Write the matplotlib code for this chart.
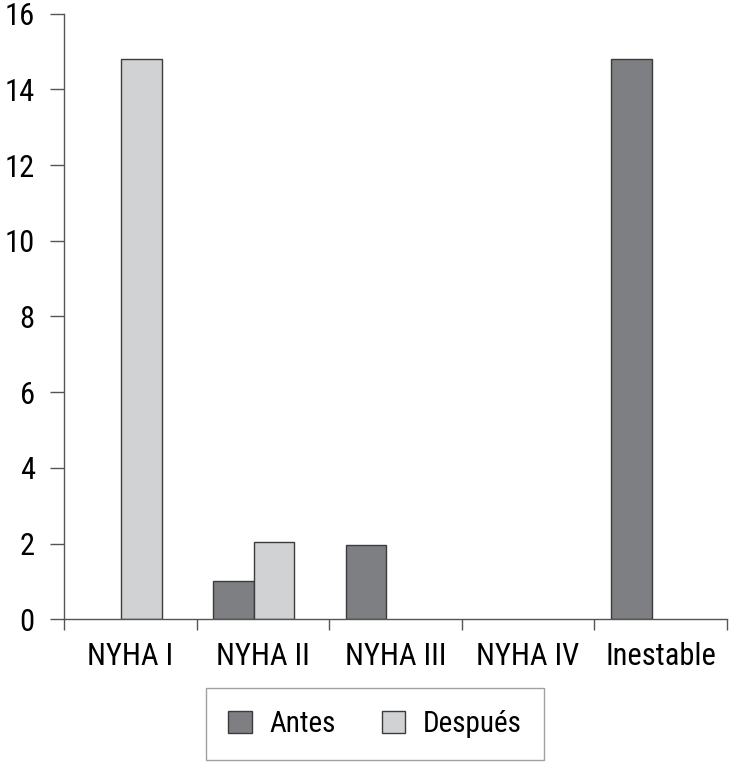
import matplotlib
matplotlib.use("Agg")
import matplotlib.pyplot as plt
import numpy as np

categories = ["NYHA I", "NYHA II", "NYHA III", "NYHA IV", "Inestable"]
antes = [0, 1.0, 1.95, 0, 14.8]
despues = [14.8, 2.05, 0, 0, 0]
yticks = [0, 2, 4, 6, 8, 10, 12, 14, 16]

plt.rcParams['font.family'] = ['Roboto Condensed', 'Liberation Sans', 'DejaVu Sans']

fig = plt.figure(figsize=(7.30, 7.62), dpi=100)
ax = fig.add_axes([64/730, 1-619.3/762, (727-64)/730, (619.3-13.6)/762])

x = np.arange(len(categories))
w = 0.305
shift = -0.068
c_antes = "#7e7f82"
c_desp = "#d0d2d4"
edge = "#3c3c3c"
h_antes = np.where(np.array(antes) > 0, antes, np.nan)
h_desp = np.where(np.array(despues) > 0, despues, np.nan)
ax.bar(x + shift - w/2, h_antes, w, color=c_antes, edgecolor=edge, linewidth=1.0, label="Antes")
ax.bar(x + shift + w/2, h_desp, w, color=c_desp, edgecolor=edge, linewidth=1.0, label="Después")

ax.set_xlim(-0.5, len(categories) - 0.5)
ax.set_ylim(0, 16)
ax.set_yticks(yticks)
ax.set_yticklabels([str(t) for t in yticks], fontsize=22)
ax.set_xticks(x)
ax.set_xticklabels(categories, fontsize=22)
ax.set_xticks(np.arange(-0.5, len(categories)), minor=True)
ax.tick_params(axis='x', which='major', length=0, pad=16)
ax.tick_params(axis='x', which='minor', length=8, width=1, color="#555555", direction='out')
ax.tick_params(axis='y', length=10, width=1, color="#555555", direction='out', pad=11)

for s in ["top", "right"]:
    ax.spines[s].set_visible(False)
for s in ["left", "bottom"]:
    ax.spines[s].set_color("#555555")
    ax.spines[s].set_linewidth(1)

leg = fig.legend(loc='center', bbox_to_anchor=(375/730, 1-724/762), ncol=2,
                 fontsize=21, frameon=True, fancybox=False, edgecolor="#888888",
                 handlelength=0.8, handleheight=0.8, handletextpad=0.6,
                 columnspacing=1.6, borderpad=0.75)
leg.get_frame().set_linewidth(1)

fig.savefig("out.png", dpi=100)
